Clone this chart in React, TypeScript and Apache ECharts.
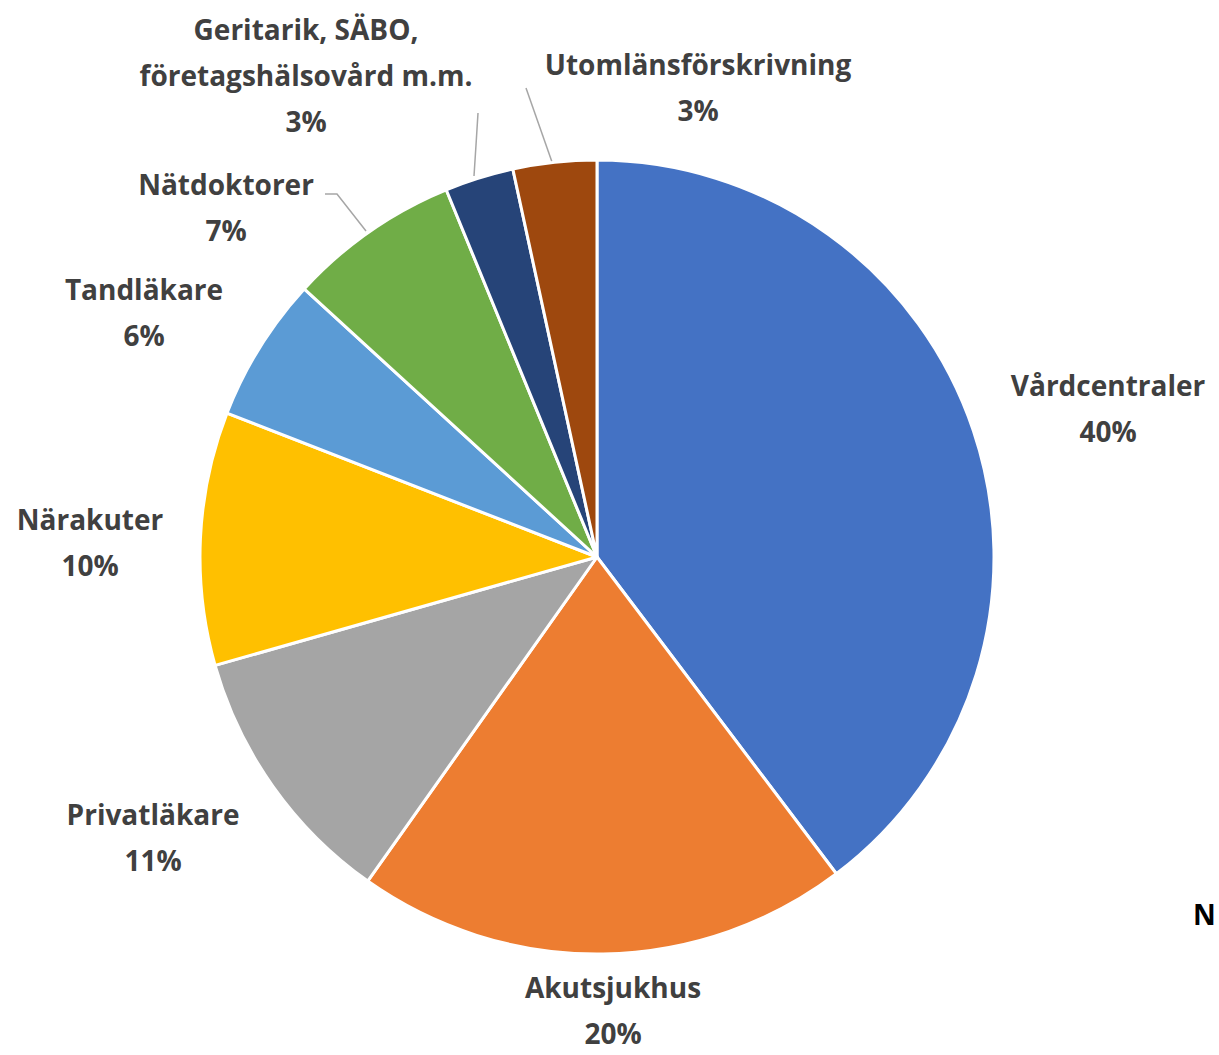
import React, { useEffect, useRef } from "react";
import * as echarts from "echarts";

const categories = [
  "Vårdcentraler",
  "Akutsjukhus",
  "Privatläkare",
  "Närakuter",
  "Tandläkare",
  "Nätdoktorer",
  "Geritarik, SÄBO,\nföretagshälsovård m.m.",
  "Utomlänsförskrivning",
];
const values = [39.7, 20.1, 10.8, 10.3, 5.9, 7.0, 2.8, 3.4];
const colors = ["#4472C4", "#ED7D31", "#A5A5A5", "#FFC000", "#5B9BD5", "#70AD47", "#264478", "#9E480E"];

// label anchor (center of label block) and optional leader line points
const LABEL_POS: [number, number][] = [
  [1108, 408],
  [613, 1010],
  [153, 837],
  [90, 542],
  [144, 312],
  [226, 207],
  [306, 75],
  [698, 87],
];
const LEADERS: ([number, number][] | null)[] = [
  null, null, null, null, null,
  [[325, 194], [337, 194], [366, 231]],
  [[478, 113], [476, 145], [474, 176]],
  [[526, 88], [539, 125], [552, 162]],
];

export default function App() {
  const ref = useRef<HTMLDivElement>(null);
  useEffect(() => {
    const chart = echarts.init(ref.current!, null, { renderer: "svg" });
    chart.setOption({
      animation: false,
      backgroundColor: "#ffffff",
      graphic: [
        {
          type: "text",
          left: 1193,
          top: 900,
          style: { text: "N", fontSize: 28, fontWeight: "bold", fill: "#000000", fontFamily: "Open Sans" },
        },
      ],
      series: [
        {
          type: "pie",
          center: [597, 557],
          radius: 397,
          startAngle: 90,
          clockwise: true,
          avoidLabelOverlap: false,
          itemStyle: { borderColor: "#ffffff", borderWidth: 3 },
          label: {
            show: true,
            position: "outside",
            formatter: (p: any) => `${p.name}\n${Math.round(p.percent)}%`,
            fontFamily: "Open Sans",
            fontWeight: "bold",
            fontSize: 28,
            lineHeight: 46,
            color: "#404040",
            align: "center",
          },
          labelLine: { show: true, lineStyle: { color: "#A6A6A6", width: 1.5 }, length: 10, length2: 10 },
          labelLayout: (params: any) => {
            const i = params.dataIndex;
            const [x, y] = LABEL_POS[i];
            const res: any = { x, y, align: "center", verticalAlign: "middle" };
            if (LEADERS[i]) res.labelLinePoints = LEADERS[i];
            return res;
          },
          data: categories.map((name, i) => ({
            name,
            value: values[i],
            itemStyle: { color: colors[i] },
            labelLine: { show: !!LEADERS[i] },
          })),
        },
      ],
    });
    return () => chart.dispose();
  }, []);
  return (
    <div
      ref={ref}
      style={{ position: "fixed", left: 0, top: 0, width: 1219, height: 1055 }}
    />
  );
}
